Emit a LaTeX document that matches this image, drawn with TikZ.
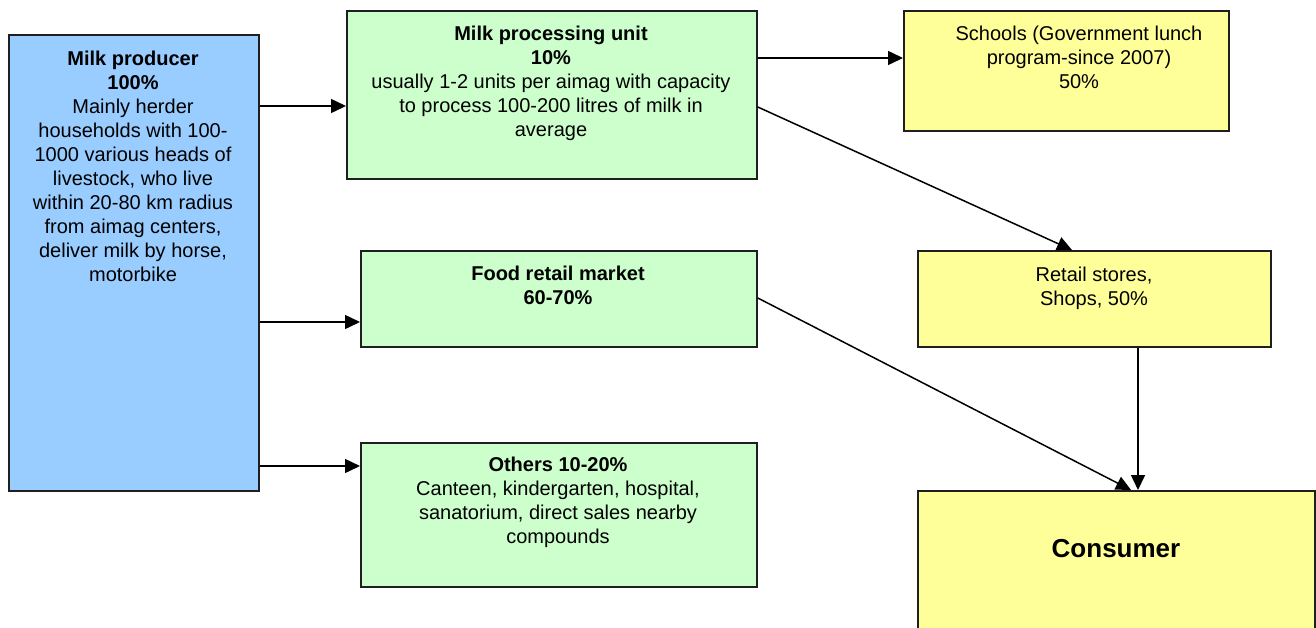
\documentclass[tikz,border=0pt]{standalone}
\usepackage{fontspec}
\setmainfont{Liberation Sans}
\usetikzlibrary{arrows.meta}
\definecolor{prodblue}{HTML}{99CCFF}
\definecolor{procgreen}{HTML}{CCFFCC}
\definecolor{consyellow}{HTML}{FFFF99}
\begin{document}
\begin{tikzpicture}[x=1pt,y=-1pt,
  box/.style={draw=black!88, line width=1.8pt, inner sep=0pt, anchor=north west},
  txt/.style={anchor=north, inner sep=0pt, align=center, font=\fontsize{20}{24}\selectfont},
  arr/.style={draw=black, line width=1.5pt, -{Triangle[length=15pt,width=14pt]}}]
\useasboundingbox (0,0) rectangle (1316,627);
\clip (0,0) rectangle (1316,627);
% boxes
\node[box, fill=prodblue, minimum width=250pt, minimum height=456pt] (prod) at (8,34) {};
\node[box, fill=procgreen, minimum width=410pt, minimum height=168pt] (proc) at (346,10) {};
\node[box, fill=procgreen, minimum width=396pt, minimum height=96pt] (food) at (360,250) {};
\node[box, fill=procgreen, minimum width=396pt, minimum height=144pt] (others) at (360,442) {};
\node[box, fill=consyellow, minimum width=325pt, minimum height=120pt] (schools) at (903,10) {};
\node[box, fill=consyellow, minimum width=353pt, minimum height=96pt] (retail) at (917,250) {};
\node[box, fill=consyellow, minimum width=397pt, minimum height=170pt] (cons) at (917,490) {};
% texts
\node[txt] (prodt) at (133,48.2) {\strut\textbf{Milk producer}\\\textbf{100\%}\\Mainly herder\\households with 100-\\1000 various heads of\\livestock, who live\\within 20-80 km radius\\from aimag centers,\\deliver milk by horse,\\motorbike};
\node[txt] (proct) at (551,23.2) {\strut\textbf{Milk processing unit}\\\textbf{10\%}\\usually 1-2 units per aimag with capacity\\to process 100-200 litres of milk in\\average};
\node[txt] (foodt) at (558,263.2) {\strut\textbf{Food retail market}\\\textbf{60-70\%}};
\node[txt] (otherst) at (558,454.2) {\strut\textbf{Others 10-20\%}\\Canteen, kindergarten, hospital,\\sanatorium, direct sales nearby\\compounds};
\node[txt] (schoolst) at (1079,23.2) {\strut Schools (Government lunch\\program-since 2007)\\50\%};
\node[txt] (retailt) at (1094,264.2) {\strut Retail stores,\\Shops, 50\%};
\node[anchor=base, inner sep=0pt, font=\fontsize{26}{30}\selectfont\bfseries] (const) at (1116,557) {Consumer};
% connectors
\draw[arr] (prod.east |- 0,106) -- (proc.west |- 0,106);
\draw[arr] (prod.east |- 0,322) -- (food.west |- 0,322);
\draw[arr] (prod.east |- 0,466) -- (others.west |- 0,466);
\draw[arr] (proc.east |- 0,58) -- (schools.west |- 0,58);
\draw[arr] (proc.east |- 0,107) -- (retail.north -| 1072,0);
\draw[arr] (food.east |- 0,298) -- (cons.north -| 1131,0);
\draw[arr] (retail.south -| 1138,0) -- (cons.north -| 1138,0);
\end{tikzpicture}
\end{document}
